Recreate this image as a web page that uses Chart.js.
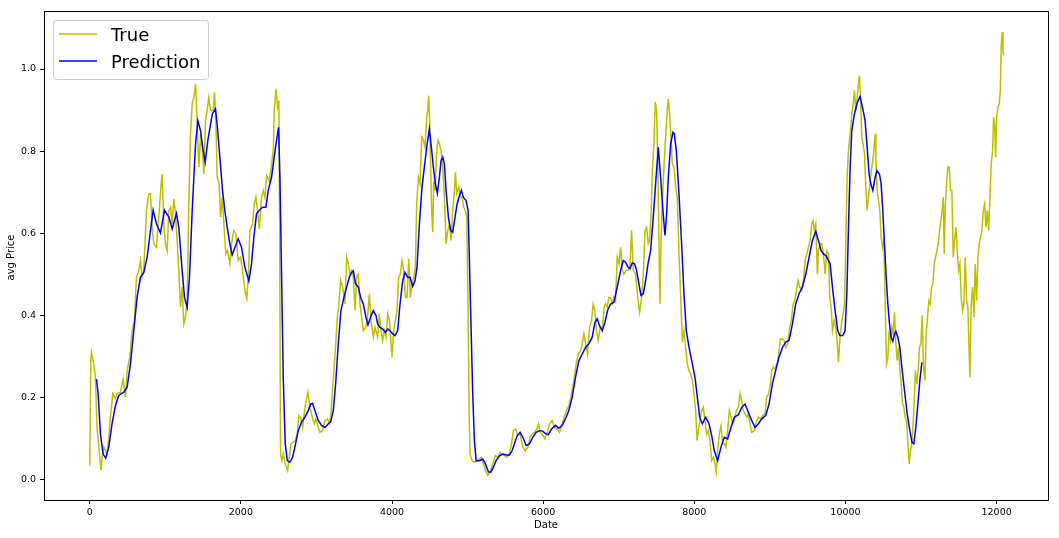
<!DOCTYPE html>
<html>
<head>
<meta charset="utf-8">
<script src="https://cdn.jsdelivr.net/npm/chart.js@4.4.1/dist/chart.umd.min.js"></script>
<style>
  html, body { margin: 0; padding: 0; background: #fff; }
  #wrap { width: 1059px; height: 538px; }
</style>
</head>
<body>
<div id="wrap"><canvas id="chart" width="1059" height="538"></canvas></div>
<script>
// values
const trueX = [0, 15, 22, 53, 75, 97, 120, 150, 164, 186, 230, 252, 274, 305, 340, 362, 406, 442, 473, 495,
  530, 561, 592, 618, 649, 671, 693, 716, 751, 782, 804, 826, 848, 883, 914, 945, 958, 980, 1002, 1025,
  1047, 1069, 1091, 1113, 1135, 1157, 1179, 1201, 1223, 1245, 1267, 1289, 1312, 1334, 1356, 1378, 1400, 1422, 1444, 1466,
  1488, 1510, 1532, 1554, 1576, 1598, 1634, 1651, 1669, 1687, 1713, 1731, 1753, 1775, 1801, 1823, 1854, 1876, 1907, 1934,
  1965, 1996, 2022, 2053, 2079, 2102, 2119, 2155, 2177, 2199, 2221, 2243, 2274, 2296, 2318, 2340, 2375, 2402, 2428, 2442,
  2464, 2486, 2503, 2512, 2525, 2543, 2561, 2587, 2618, 2640, 2662, 2693, 2720, 2746, 2768, 2790, 2817, 2843, 2870, 2887,
  2914, 2945, 2971, 2993, 3024, 3046, 3077, 3113, 3144, 3170, 3192, 3214, 3232, 3258, 3276, 3298, 3320, 3347, 3377, 3400,
  3422, 3444, 3466, 3488, 3510, 3532, 3554, 3576, 3598, 3620, 3651, 3673, 3700, 3722, 3753, 3775, 3788, 3810, 3832, 3854,
  3876, 3898, 3921, 3943, 3965, 3987, 4000, 4022, 4044, 4066, 4088, 4110, 4132, 4155, 4177, 4199, 4221, 4243, 4265, 4287,
  4309, 4327, 4349, 4371, 4393, 4415, 4437, 4459, 4472, 4486, 4499, 4512, 4525, 4539, 4552, 4570, 4592, 4609, 4627, 4649,
  4671, 4693, 4715, 4737, 4759, 4781, 4803, 4826, 4839, 4856, 4883, 4905, 4927, 4949, 4971, 4989, 5007, 5020, 5033, 5060,
  5090, 5121, 5157, 5183, 5210, 5236, 5267, 5298, 5333, 5369, 5400, 5430, 5457, 5488, 5519, 5554, 5581, 5607, 5634, 5664,
  5695, 5731, 5762, 5797, 5828, 5854, 5885, 5916, 5938, 5960, 5987, 6022, 6053, 6084, 6119, 6150, 6185, 6216, 6252, 6278,
  6309, 6340, 6375, 6406, 6437, 6464, 6495, 6517, 6539, 6561, 6587, 6614, 6640, 6662, 6684, 6706, 6728, 6755, 6781, 6808,
  6826, 6848, 6870, 6892, 6914, 6936, 6958, 6980, 7002, 7025, 7047, 7069, 7100, 7126, 7148, 7170, 7192, 7223, 7250, 7276,
  7303, 7325, 7347, 7369, 7391, 7408, 7430, 7444, 7466, 7483, 7501, 7519, 7532, 7545, 7559, 7576, 7598, 7620, 7642, 7656,
  7673, 7691, 7709, 7731, 7753, 7775, 7797, 7819, 7841, 7863, 7885, 7907, 7929, 7951, 7974, 7996, 8018, 8035, 8053, 8075,
  8097, 8119, 8141, 8163, 8185, 8208, 8230, 8252, 8274, 8291, 8309, 8331, 8353, 8375, 8397, 8419, 8441, 8464, 8486, 8508,
  8530, 8556, 8583, 8605, 8627, 8649, 8671, 8693, 8715, 8737, 8759, 8795, 8826, 8848, 8879, 8905, 8936, 8958, 8984, 9007,
  9024, 9046, 9068, 9095, 9117, 9139, 9161, 9188, 9210, 9236, 9263, 9285, 9307, 9329, 9351, 9373, 9395, 9422, 9448, 9466,
  9488, 9510, 9532, 9554, 9572, 9589, 9607, 9629, 9642, 9664, 9686, 9709, 9731, 9753, 9775, 9792, 9810, 9828, 9850, 9872,
  9890, 9907, 9925, 9947, 9969, 9987, 10004, 10022, 10040, 10062, 10084, 10102, 10119, 10137, 10155, 10172, 10185, 10203, 10216, 10234,
  10252, 10269, 10287, 10305, 10327, 10349, 10371, 10393, 10402, 10419, 10437, 10455, 10472, 10490, 10508, 10525, 10543, 10561, 10578, 10596,
  10614, 10631, 10649, 10667, 10684, 10702, 10720, 10737, 10755, 10773, 10790, 10808, 10826, 10843, 10861, 10879, 10896, 10914, 10927, 10945,
  10962, 10980, 10998, 11015, 11033, 11051, 11068, 11086, 11104, 11121, 11139, 11157, 11174, 11192, 11210, 11227, 11245, 11263, 11280, 11294,
  11307, 11320, 11338, 11355, 11373, 11391, 11408, 11426, 11444, 11461, 11479, 11497, 11514, 11532, 11550, 11567, 11585, 11603, 11620, 11634,
  11647, 11664, 11682, 11700, 11717, 11735, 11753, 11770, 11788, 11806, 11823, 11841, 11859, 11876, 11894, 11912, 11929, 11947, 11960, 11974,
  11987, 12000, 12018, 12035, 12049, 12062, 12075, 12084, 12093];
const trueY = [0.033, 0.290, 0.309, 0.281, 0.248, 0.126, 0.078, 0.021, 0.053, 0.078, 0.061, 0.102, 0.151, 0.208, 0.196, 0.208, 0.212, 0.244, 0.200, 0.265,
  0.297, 0.362, 0.387, 0.492, 0.509, 0.533, 0.492, 0.509, 0.655, 0.696, 0.696, 0.614, 0.574, 0.565, 0.639, 0.720, 0.744, 0.622, 0.574, 0.557,
  0.655, 0.663, 0.622, 0.683, 0.647, 0.582, 0.509, 0.419, 0.468, 0.378, 0.395, 0.435, 0.679, 0.842, 0.915, 0.931, 0.964, 0.866, 0.761, 0.834,
  0.809, 0.744, 0.874, 0.899, 0.931, 0.899, 0.899, 0.943, 0.874, 0.736, 0.720, 0.639, 0.687, 0.622, 0.549, 0.557, 0.525, 0.574, 0.606, 0.598,
  0.533, 0.541, 0.509, 0.460, 0.440, 0.509, 0.606, 0.622, 0.671, 0.687, 0.655, 0.610, 0.687, 0.704, 0.687, 0.740, 0.728, 0.761, 0.801, 0.899,
  0.952, 0.907, 0.923, 0.655, 0.061, 0.045, 0.061, 0.037, 0.021, 0.053, 0.086, 0.090, 0.094, 0.110, 0.155, 0.151, 0.126, 0.167, 0.196, 0.212,
  0.175, 0.151, 0.135, 0.147, 0.126, 0.114, 0.118, 0.143, 0.147, 0.135, 0.159, 0.224, 0.265, 0.338, 0.395, 0.427, 0.484, 0.468, 0.427, 0.541,
  0.525, 0.500, 0.509, 0.492, 0.411, 0.492, 0.500, 0.427, 0.395, 0.362, 0.370, 0.387, 0.452, 0.387, 0.346, 0.370, 0.370, 0.346, 0.403, 0.362,
  0.338, 0.362, 0.346, 0.403, 0.387, 0.330, 0.297, 0.362, 0.387, 0.411, 0.492, 0.500, 0.533, 0.509, 0.443, 0.443, 0.537, 0.443, 0.476, 0.492,
  0.517, 0.671, 0.736, 0.720, 0.834, 0.826, 0.809, 0.882, 0.899, 0.935, 0.866, 0.752, 0.655, 0.602, 0.728, 0.704, 0.801, 0.826, 0.817, 0.801,
  0.761, 0.687, 0.574, 0.606, 0.622, 0.582, 0.655, 0.704, 0.748, 0.696, 0.712, 0.687, 0.687, 0.663, 0.655, 0.639, 0.411, 0.167, 0.061, 0.045,
  0.041, 0.045, 0.049, 0.053, 0.037, 0.021, 0.009, 0.017, 0.037, 0.057, 0.053, 0.065, 0.061, 0.057, 0.053, 0.061, 0.086, 0.118, 0.122, 0.106,
  0.110, 0.078, 0.069, 0.078, 0.102, 0.110, 0.114, 0.122, 0.135, 0.114, 0.110, 0.098, 0.114, 0.135, 0.143, 0.126, 0.122, 0.114, 0.135, 0.151,
  0.167, 0.179, 0.208, 0.240, 0.281, 0.305, 0.313, 0.330, 0.354, 0.330, 0.305, 0.370, 0.387, 0.427, 0.411, 0.362, 0.338, 0.370, 0.362, 0.419,
  0.427, 0.419, 0.443, 0.443, 0.427, 0.443, 0.435, 0.541, 0.525, 0.565, 0.509, 0.500, 0.509, 0.509, 0.517, 0.606, 0.509, 0.500, 0.443, 0.407,
  0.443, 0.500, 0.606, 0.614, 0.574, 0.582, 0.655, 0.752, 0.817, 0.919, 0.899, 0.752, 0.574, 0.427, 0.574, 0.671, 0.761, 0.834, 0.899, 0.927,
  0.891, 0.834, 0.769, 0.761, 0.712, 0.687, 0.549, 0.452, 0.334, 0.362, 0.321, 0.281, 0.265, 0.256, 0.240, 0.208, 0.167, 0.094, 0.118, 0.143,
  0.167, 0.175, 0.143, 0.110, 0.118, 0.094, 0.045, 0.053, 0.037, 0.017, 0.069, 0.110, 0.130, 0.086, 0.086, 0.078, 0.118, 0.167, 0.151, 0.135,
  0.143, 0.167, 0.175, 0.208, 0.191, 0.167, 0.159, 0.151, 0.159, 0.135, 0.114, 0.118, 0.143, 0.151, 0.147, 0.155, 0.159, 0.200, 0.208, 0.232,
  0.265, 0.273, 0.269, 0.281, 0.305, 0.342, 0.342, 0.338, 0.321, 0.330, 0.370, 0.387, 0.427, 0.435, 0.460, 0.484, 0.468, 0.460, 0.492, 0.533,
  0.549, 0.565, 0.582, 0.622, 0.630, 0.606, 0.622, 0.500, 0.557, 0.574, 0.574, 0.549, 0.500, 0.557, 0.549, 0.443, 0.419, 0.362, 0.387, 0.370,
  0.338, 0.285, 0.338, 0.378, 0.403, 0.427, 0.574, 0.736, 0.801, 0.842, 0.891, 0.915, 0.948, 0.899, 0.931, 0.964, 0.984, 0.907, 0.834, 0.817,
  0.793, 0.712, 0.655, 0.687, 0.728, 0.761, 0.793, 0.842, 0.785, 0.704, 0.679, 0.655, 0.590, 0.565, 0.582, 0.435, 0.281, 0.297, 0.362, 0.338,
  0.370, 0.354, 0.407, 0.330, 0.289, 0.321, 0.265, 0.232, 0.183, 0.175, 0.151, 0.143, 0.086, 0.037, 0.069, 0.086, 0.135, 0.208, 0.265, 0.232,
  0.265, 0.321, 0.330, 0.399, 0.273, 0.240, 0.354, 0.395, 0.435, 0.427, 0.468, 0.476, 0.525, 0.541, 0.557, 0.574, 0.606, 0.630, 0.655, 0.687,
  0.549, 0.663, 0.720, 0.761, 0.761, 0.704, 0.704, 0.541, 0.582, 0.614, 0.557, 0.509, 0.525, 0.443, 0.411, 0.427, 0.541, 0.435, 0.419, 0.330,
  0.248, 0.427, 0.468, 0.395, 0.525, 0.435, 0.541, 0.574, 0.590, 0.606, 0.655, 0.671, 0.614, 0.655, 0.606, 0.687, 0.769, 0.801, 0.882, 0.866,
  0.785, 0.882, 0.907, 0.915, 0.948, 1.061, 1.090, 1.045, 1.033];

const predX = [89, 111, 142, 177, 212, 252, 296, 340, 384, 451, 495, 539, 583, 627, 671, 716, 760, 804, 839, 883,
  936, 989, 1047, 1091, 1148, 1179, 1223, 1254, 1289, 1320, 1356, 1400, 1431, 1466, 1501, 1528, 1563, 1607, 1624, 1664,
  1686, 1722, 1757, 1788, 1819, 1854, 1885, 1921, 1965, 2009, 2053, 2106, 2141, 2172, 2207, 2243, 2287, 2331, 2362, 2406,
  2441, 2472, 2499, 2517, 2539, 2561, 2587, 2614, 2649, 2684, 2715, 2759, 2803, 2848, 2892, 2923, 2949, 2980, 3024, 3068,
  3113, 3157, 3188, 3223, 3254, 3289, 3324, 3364, 3399, 3435, 3466, 3488, 3518, 3554, 3585, 3620, 3655, 3682, 3717, 3752,
  3788, 3810, 3841, 3876, 3912, 3943, 3973, 4009, 4040, 4075, 4106, 4141, 4172, 4208, 4238, 4274, 4305, 4331, 4362, 4397,
  4433, 4459, 4494, 4521, 4547, 4574, 4600, 4627, 4649, 4671, 4693, 4715, 4746, 4777, 4803, 4834, 4861, 4892, 4918, 4945,
  4980, 5007, 5024, 5046, 5068, 5090, 5113, 5157, 5201, 5236, 5276, 5311, 5342, 5377, 5422, 5466, 5510, 5554, 5589, 5620,
  5656, 5695, 5731, 5775, 5819, 5863, 5907, 5951, 5996, 6022, 6066, 6111, 6164, 6208, 6252, 6296, 6340, 6384, 6428, 6473,
  6517, 6561, 6605, 6649, 6685, 6715, 6746, 6782, 6817, 6852, 6892, 6936, 6980, 7025, 7060, 7091, 7122, 7148, 7179, 7210,
  7236, 7267, 7294, 7325, 7356, 7387, 7422, 7457, 7488, 7523, 7554, 7585, 7612, 7634, 7656, 7687, 7718, 7735, 7762, 7797,
  7832, 7863, 7894, 7930, 7974, 8009, 8040, 8071, 8106, 8150, 8195, 8230, 8265, 8309, 8353, 8397, 8441, 8485, 8530, 8583,
  8627, 8671, 8715, 8759, 8803, 8848, 8892, 8945, 8989, 9033, 9077, 9121, 9166, 9210, 9254, 9298, 9342, 9386, 9430, 9475,
  9519, 9563, 9607, 9642, 9678, 9709, 9740, 9766, 9797, 9828, 9863, 9898, 9925, 9965, 9995, 10018, 10040, 10062, 10084, 10119,
  10159, 10194, 10225, 10260, 10287, 10313, 10335, 10362, 10393, 10415, 10450, 10472, 10494, 10516, 10539, 10561, 10583, 10605, 10627, 10649,
  10667, 10693, 10720, 10746, 10781, 10817, 10852, 10879, 10905, 10931, 10958, 10984, 11011];
const predY = [0.244, 0.208, 0.110, 0.061, 0.051, 0.078, 0.135, 0.179, 0.204, 0.212, 0.224, 0.281, 0.362, 0.443, 0.492, 0.504, 0.541, 0.606, 0.656, 0.622,
  0.600, 0.656, 0.639, 0.610, 0.648, 0.614, 0.509, 0.443, 0.419, 0.492, 0.655, 0.817, 0.874, 0.850, 0.801, 0.773, 0.826, 0.874, 0.891, 0.903,
  0.866, 0.785, 0.704, 0.655, 0.614, 0.574, 0.547, 0.565, 0.586, 0.565, 0.517, 0.483, 0.525, 0.590, 0.647, 0.655, 0.663, 0.663, 0.704, 0.736,
  0.785, 0.826, 0.858, 0.736, 0.492, 0.248, 0.086, 0.045, 0.041, 0.053, 0.078, 0.118, 0.139, 0.151, 0.167, 0.183, 0.185, 0.167, 0.143, 0.131,
  0.126, 0.135, 0.139, 0.167, 0.232, 0.330, 0.411, 0.443, 0.468, 0.492, 0.504, 0.508, 0.476, 0.468, 0.443, 0.427, 0.395, 0.376, 0.395, 0.411,
  0.399, 0.378, 0.370, 0.366, 0.358, 0.366, 0.362, 0.354, 0.350, 0.362, 0.427, 0.484, 0.504, 0.492, 0.492, 0.470, 0.484, 0.517, 0.622, 0.712,
  0.769, 0.809, 0.854, 0.809, 0.761, 0.720, 0.697, 0.736, 0.777, 0.785, 0.769, 0.704, 0.639, 0.606, 0.602, 0.639, 0.671, 0.691, 0.704, 0.687,
  0.679, 0.655, 0.533, 0.370, 0.208, 0.094, 0.045, 0.045, 0.049, 0.037, 0.017, 0.017, 0.029, 0.045, 0.057, 0.061, 0.059, 0.059, 0.069, 0.086,
  0.106, 0.114, 0.102, 0.082, 0.086, 0.102, 0.114, 0.118, 0.117, 0.112, 0.108, 0.122, 0.131, 0.124, 0.131, 0.147, 0.167, 0.200, 0.248, 0.289,
  0.305, 0.321, 0.330, 0.346, 0.382, 0.391, 0.374, 0.362, 0.382, 0.411, 0.427, 0.431, 0.468, 0.509, 0.533, 0.529, 0.517, 0.513, 0.527, 0.525,
  0.509, 0.476, 0.448, 0.452, 0.484, 0.525, 0.557, 0.639, 0.720, 0.809, 0.736, 0.655, 0.594, 0.647, 0.736, 0.817, 0.846, 0.842, 0.801, 0.696,
  0.574, 0.452, 0.362, 0.321, 0.281, 0.248, 0.200, 0.151, 0.135, 0.151, 0.135, 0.106, 0.069, 0.045, 0.078, 0.102, 0.098, 0.126, 0.151, 0.157,
  0.175, 0.183, 0.163, 0.143, 0.126, 0.135, 0.147, 0.155, 0.183, 0.232, 0.265, 0.297, 0.321, 0.334, 0.338, 0.378, 0.427, 0.452, 0.468, 0.500,
  0.541, 0.582, 0.604, 0.582, 0.557, 0.549, 0.545, 0.537, 0.525, 0.468, 0.411, 0.362, 0.350, 0.350, 0.362, 0.452, 0.614, 0.761, 0.850, 0.891,
  0.919, 0.933, 0.907, 0.874, 0.809, 0.744, 0.720, 0.704, 0.736, 0.752, 0.744, 0.720, 0.655, 0.574, 0.492, 0.427, 0.378, 0.346, 0.336, 0.354,
  0.360, 0.346, 0.321, 0.273, 0.216, 0.159, 0.118, 0.090, 0.086, 0.126, 0.183, 0.240, 0.285];

const xTicks = [0, 2000, 4000, 6000, 8000, 10000, 12000];
const yTicks = [0.0, 0.2, 0.4, 0.6, 0.8, 1.0];
const seriesNames = ['True', 'Prediction'];
const seriesColors = ['#bfbf00', '#0000ff'];

const toPoints = (xs, ys) => xs.map((x, i) => ({ x: x, y: ys[i] }));

const FONT = 'DejaVu Sans';

// frame, axis titles and the legend box, drawn like matplotlib does
const extrasPlugin = {
    id: 'extras',
    afterDraw(chart) {
        const ctx = chart.ctx;
        const a = chart.chartArea;
        ctx.save();

        // spines
        ctx.strokeStyle = '#000';
        ctx.lineWidth = 1;
        ctx.strokeRect(a.left + 0.5, a.top + 0.5, a.right - a.left, a.bottom - a.top);

        // axis titles
        ctx.fillStyle = '#000';
        ctx.font = '10px "' + FONT + '"';
        ctx.textAlign = 'center';
        ctx.textBaseline = 'middle';
        ctx.fillText('Date', (a.left + a.right) / 2, 525.5);
        ctx.save();
        ctx.translate(11, (a.top + a.bottom) / 2 + 2);
        ctx.rotate(-Math.PI / 2);
        ctx.fillText('avg Price', 0, 0);
        ctx.restore();

        // legend
        const bx = 53.5, by = 20.5, bw = 155, bh = 59, r = 3;
        ctx.beginPath();
        ctx.moveTo(bx + r, by);
        ctx.arcTo(bx + bw, by, bx + bw, by + bh, r);
        ctx.arcTo(bx + bw, by + bh, bx, by + bh, r);
        ctx.arcTo(bx, by + bh, bx, by, r);
        ctx.arcTo(bx, by, bx + bw, by, r);
        ctx.closePath();
        ctx.fillStyle = 'rgba(255,255,255,0.8)';
        ctx.fill();
        ctx.strokeStyle = '#cccccc';
        ctx.stroke();

        const rows = [34, 61];
        ctx.font = '18px "' + FONT + '"';
        ctx.textAlign = 'left';
        ctx.textBaseline = 'alphabetic';
        seriesNames.forEach((name, i) => {
            ctx.strokeStyle = seriesColors[i];
            ctx.lineWidth = 1.5;
            ctx.beginPath();
            ctx.moveTo(59, rows[i]);
            ctx.lineTo(97, rows[i]);
            ctx.stroke();
            ctx.fillStyle = '#000';
            ctx.fillText(name, 111, rows[i] + 7);
        });
        ctx.restore();
    }
};

const tickFont = { family: FONT, size: 9.5 };

new Chart(document.getElementById('chart'), {
    type: 'scatter',
    data: {
        datasets: [
            {
                label: seriesNames[1],
                data: toPoints(predX, predY),
                borderColor: seriesColors[1],
                borderWidth: 1.5,
                showLine: true,
                pointRadius: 0,
                tension: 0,
                order: 0
            },
            {
                label: seriesNames[0],
                data: toPoints(trueX, trueY),
                borderColor: seriesColors[0],
                borderWidth: 1.5,
                showLine: true,
                pointRadius: 0,
                tension: 0,
                order: 1
            }
        ]
    },
    options: {
        responsive: false,
        animation: false,
        devicePixelRatio: 1,
        layout: { padding: { top: 11, right: 11, left: 0, bottom: 0 } },
        plugins: {
            legend: { display: false },
            tooltip: { enabled: false }
        },
        scales: {
            x: {
                type: 'linear',
                min: -605,
                max: 12680,
                afterBuildTicks: s => { s.ticks = xTicks.map(v => ({ value: v })); },
                afterFit: s => { s.height = 38; },
                ticks: {
                    font: tickFont,
                    color: '#000',
                    padding: 3,
                    maxRotation: 0,
                    autoSkip: false,
                    callback: v => String(v)
                },
                grid: { drawOnChartArea: false, drawTicks: true, tickLength: 4, tickColor: '#000' },
                border: { display: false }
            },
            y: {
                type: 'linear',
                min: -0.051,
                max: 1.1415,
                afterBuildTicks: s => { s.ticks = yTicks.map(v => ({ value: v })); },
                afterFit: s => { s.width = 44; },
                ticks: {
                    font: tickFont,
                    color: '#000',
                    padding: 4,
                    autoSkip: false,
                    callback: v => v.toFixed(1)
                },
                grid: { drawOnChartArea: false, drawTicks: true, tickLength: 4, tickColor: '#000' },
                border: { display: false }
            }
        }
    },
    plugins: [extrasPlugin]
});
</script>
</body>
</html>
